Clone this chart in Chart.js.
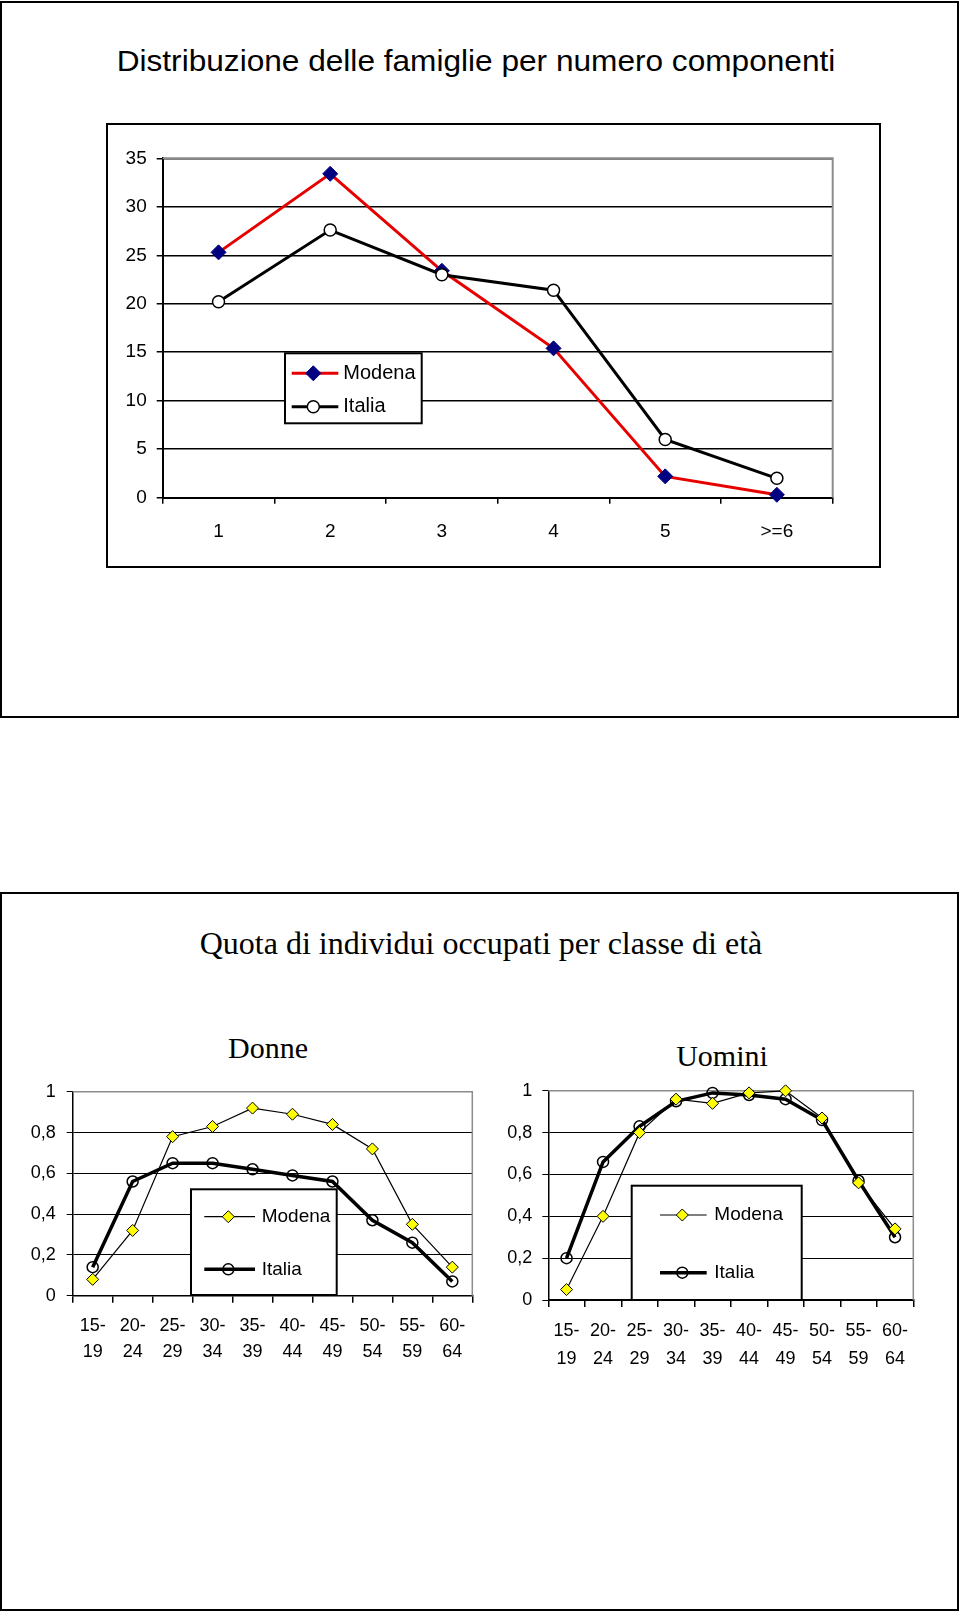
<!DOCTYPE html>
<html>
<head>
<meta charset="utf-8">
<script src="https://cdn.jsdelivr.net/npm/chart.js@4.4.1/dist/chart.umd.min.js"></script>
<style>
body { margin: 0; background: #fff; width: 960px; height: 1614px; position: relative; overflow: hidden; }
.panel { position: absolute; border: 2px solid #000; box-sizing: border-box; }
.title { position: absolute; text-align: center; white-space: nowrap; color: #000; }
.sans { font-family: "Liberation Sans", Arial, sans-serif; }
.serif { font-family: "Liberation Serif", "Times New Roman", serif; }
canvas { position: absolute; }
</style>
</head>
<body>
<div class="panel" style="left:0px;top:1px;width:959px;height:717px"></div>
<div class="title sans" style="left:76px;top:47px;width:800px;font-size:29px;line-height:29px;transform:scaleX(1.09)">Distribuzione delle famiglie per numero componenti</div>
<div class="panel" style="left:106px;top:123px;width:775px;height:445px"></div>
<canvas id="famChart" width="773" height="443" style="left:107px;top:124px"></canvas>

<div class="panel" style="left:0px;top:892px;width:959px;height:719px"></div>
<div class="title serif" style="left:181px;top:927px;width:600px;font-size:32px;line-height:32px">Quota di individui occupati per classe di età</div>
<div class="title serif" style="left:118px;top:1033px;width:300px;font-size:30px;line-height:30px">Donne</div>
<div class="title serif" style="left:572px;top:1041px;width:300px;font-size:30px;line-height:30px">Uomini</div>
<canvas id="donneChart" width="480" height="300" style="left:8px;top:1070px"></canvas>
<canvas id="uominiChart" width="472" height="300" style="left:488px;top:1070px"></canvas>

<script>
// famiglie per numero componenti (%)
var famCategories = ['1', '2', '3', '4', '5', '>=6'];
var famModena = [25.3, 33.4, 23.4, 15.4, 2.2, 0.3];
var famItalia = [20.2, 27.6, 23.0, 21.4, 6.0, 2.0];

// quota occupati per classe di eta
var ageClasses = [['15-', '19'], ['20-', '24'], ['25-', '29'], ['30-', '34'], ['35-', '39'],
                  ['40-', '44'], ['45-', '49'], ['50-', '54'], ['55-', '59'], ['60-', '64']];
var donneModena = [0.08, 0.32, 0.78, 0.83, 0.92, 0.89, 0.84, 0.72, 0.35, 0.14];
var donneItalia = [0.14, 0.56, 0.65, 0.65, 0.62, 0.59, 0.56, 0.37, 0.26, 0.07];
var uominiModena = [0.05, 0.40, 0.80, 0.96, 0.94, 0.99, 1.00, 0.87, 0.56, 0.34];
var uominiItalia = [0.20, 0.66, 0.83, 0.95, 0.99, 0.98, 0.96, 0.86, 0.57, 0.30];
var shareTicks = ['0', '0,2', '0,4', '0,6', '0,8', '1'];

var SANS = 'Liberation Sans';

// gray top/right edge of the plot area
var plotFrame = {
    id: 'plotFrame',
    beforeDatasetsDraw: function(chart, args, opts) {
        var a = chart.chartArea, ctx = chart.ctx;
        ctx.save();
        ctx.strokeStyle = opts.color;
        ctx.lineWidth = opts.width;
        ctx.beginPath();
        ctx.moveTo(a.left, a.top);
        ctx.lineTo(a.right, a.top);
        ctx.lineTo(a.right, a.bottom);
        ctx.stroke();
        ctx.restore();
    }
};

function drawMarker(ctx, style, x, y, r) {
    ctx.beginPath();
    if (style === 'rectRot') {
        ctx.moveTo(x - r, y);
        ctx.lineTo(x, y - r);
        ctx.lineTo(x + r, y);
        ctx.lineTo(x, y + r);
        ctx.closePath();
    } else {
        ctx.arc(x, y, r, 0, Math.PI * 2);
    }
}

// boxed legend placed inside the plot, like the original
var boxLegend = {
    id: 'boxLegend',
    afterDraw: function(chart, args, opts) {
        var ctx = chart.ctx;
        ctx.save();
        ctx.fillStyle = '#fff';
        ctx.fillRect(opts.x, opts.y, opts.w, opts.h);
        ctx.strokeStyle = '#000';
        ctx.lineWidth = 2;
        ctx.strokeRect(opts.x, opts.y, opts.w, opts.h);
        chart.data.datasets.forEach(function(ds, i) {
            var y = opts.rows[i];
            ctx.strokeStyle = ds.borderColor;
            ctx.lineWidth = ds.borderWidth;
            ctx.beginPath();
            ctx.moveTo(opts.lineX1, y);
            ctx.lineTo(opts.lineX2, y);
            ctx.stroke();
            drawMarker(ctx, ds.pointStyle, opts.markX, y, ds.pointRadius);
            ctx.fillStyle = ds.pointBackgroundColor;
            ctx.fill();
            ctx.strokeStyle = ds.pointBorderColor;
            ctx.lineWidth = ds.pointBorderWidth;
            ctx.stroke();
            ctx.fillStyle = '#000';
            ctx.font = opts.fontSize + 'px "' + SANS + '"';
            ctx.textBaseline = 'middle';
            ctx.textAlign = 'left';
            ctx.fillText(ds.label, opts.textX, y);
        });
        ctx.restore();
    }
};

new Chart(document.getElementById('famChart'), {
    type: 'line',
    data: {
        labels: famCategories,
        datasets: [{
            label: 'Modena',
            data: famModena,
            borderColor: '#e60000',
            borderWidth: 3,
            pointStyle: 'rectRot',
            pointRadius: 7.5,
            pointBackgroundColor: '#000080',
            pointBorderColor: '#000080',
            pointBorderWidth: 1,
            clip: false,
            order: 1
        }, {
            label: 'Italia',
            data: famItalia,
            borderColor: '#000',
            borderWidth: 3,
            pointStyle: 'circle',
            pointRadius: 6,
            pointBackgroundColor: '#fff',
            pointBorderColor: '#000',
            pointBorderWidth: 1.5,
            clip: false,
            order: 0
        }]
    },
    options: {
        responsive: false,
        animation: false,
        devicePixelRatio: 1,
        events: [],
        layout: { padding: { top: 34.3, right: 47.3, left: 0, bottom: 0 } },
        plugins: {
            legend: { display: false },
            tooltip: { enabled: false },
            plotFrame: { color: '#8c8c8c', width: 2 },
            boxLegend: { x: 178, y: 229.3, w: 136.7, h: 70, rows: [249.3, 282.7],
                         lineX1: 184.7, lineX2: 231.3, markX: 206.3, textX: 236.3, fontSize: 20 }
        },
        scales: {
            x: {
                offset: true,
                grid: { offset: true, drawOnChartArea: false, tickLength: 6, color: '#000', lineWidth: 1.5 },
                border: { color: '#000', width: 2 },
                ticks: { color: '#000', font: { family: SANS, size: 19 }, padding: 17, maxRotation: 0, autoSkip: false },
                afterFit: function(s) { s.height = 69.3; }
            },
            y: {
                min: 0,
                max: 35,
                grid: { color: '#000', lineWidth: 1.5, tickLength: 6 },
                border: { color: '#000', width: 2 },
                ticks: { stepSize: 5, color: '#000', font: { family: SANS, size: 19 }, padding: 10 },
                afterFit: function(s) { s.width = 55.7; }
            }
        }
    },
    plugins: [plotFrame, boxLegend]
});

function shareChart(id, modena, italia, geo) {
    return new Chart(document.getElementById(id), {
        type: 'line',
        data: {
            labels: ageClasses,
            datasets: [{
                label: 'Modena',
                data: modena,
                borderColor: '#000',
                borderWidth: 1.2,
                pointStyle: 'rectRot',
                pointRadius: 6,
                pointBackgroundColor: '#ffff00',
                pointBorderColor: '#000',
                pointBorderWidth: 1,
                clip: false
            }, {
                label: 'Italia',
                data: italia,
                borderColor: '#000',
                borderWidth: 3.5,
                pointStyle: 'circle',
                pointRadius: 5.5,
                pointBackgroundColor: 'rgba(255,255,255,0)',
                pointBorderColor: '#000',
                pointBorderWidth: 1.5,
                clip: false
            }]
        },
        options: {
            responsive: false,
            animation: false,
            devicePixelRatio: 1,
            events: [],
            layout: { padding: { top: geo.top, right: geo.right, left: 0, bottom: 0 } },
            plugins: {
                legend: { display: false },
                tooltip: { enabled: false },
                plotFrame: { color: '#8c8c8c', width: 1.5 },
                boxLegend: geo.legend
            },
            scales: {
                x: {
                    offset: true,
                    grid: { offset: true, drawOnChartArea: false, tickLength: 7, color: '#000', lineWidth: 1.5 },
                    border: { color: '#000', width: 1.5 },
                    ticks: { color: '#000', font: { family: SANS, size: 18, lineHeight: geo.lineHeight },
                             padding: 10, maxRotation: 0, autoSkip: false },
                    afterFit: function(s) { s.height = geo.xHeight; }
                },
                y: {
                    min: 0,
                    max: 1,
                    grid: { color: '#000', lineWidth: 1, tickLength: 6 },
                    border: { color: '#000', width: 1.5 },
                    ticks: { stepSize: 0.2, color: '#000', font: { family: SANS, size: 18 }, padding: geo.yPad,
                             callback: function(v, i) { return shareTicks[i]; } },
                    afterFit: function(s) { s.width = geo.yWidth; }
                }
            }
        },
        plugins: [plotFrame, boxLegend]
    });
}

shareChart('donneChart', donneModena, donneItalia, {
    top: 11.7, right: 15.7, xHeight: 74.3, yWidth: 64.7, yPad: 11, lineHeight: 1.45,
    legend: { x: 183, y: 119.3, w: 145.7, h: 105.7, rows: [146.7, 199.3],
              lineX1: 196.3, lineX2: 247, markX: 220.3, textX: 253.7, fontSize: 19 }
});
shareChart('uominiChart', uominiModena, uominiItalia, {
    top: 16, right: 46.7, xHeight: 70, yWidth: 60.3, yPad: 10, lineHeight: 1.55,
    legend: { x: 143.7, y: 115.7, w: 170, h: 114.3, rows: [145, 202.7],
              lineX1: 172, lineX2: 218.7, markX: 194.3, textX: 226.3, fontSize: 19 }
});
</script>
</body>
</html>
